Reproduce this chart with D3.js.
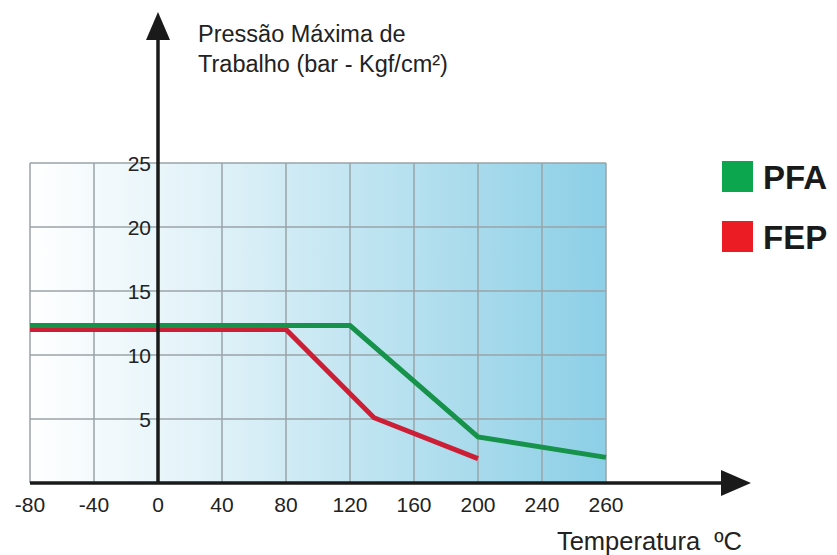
<!DOCTYPE html>
<html>
<head>
<meta charset="utf-8">
<script src="https://cdn.jsdelivr.net/npm/d3@7"></script>
<style>
  html, body { margin: 0; padding: 0; background: #fff; }
  svg { display: block; }
</style>
</head>
<body>
<svg id="chart" width="837" height="555"></svg>
<script>
// ---- data ----
const xTicks = [-80, -40, 0, 40, 80, 120, 160, 200, 240, 260];
const yTicks = [5, 10, 15, 20, 25];
const pfaTemp = [-80, 120, 200, 260];
const pfaPress = [12.3, 12.3, 3.6, 2.0];
const fepTemp = [-80, 80, 135, 200];
const fepPress = [12.0, 12.0, 5.1, 1.9];
const seriesNames = ["PFA", "FEP"];
const yTitle = ["Pressão Máxima de", "Trabalho (bar - Kgf/cm²)"];
const xTitle = "Temperatura  ºC";

// ---- layout ----
const svg = d3.select("#chart");
// last column (240->260) is drawn with the same width as the others
const x = d3.scaleLinear().domain([-80, 240, 260]).range([30, 542, 606]);
const y = d3.scaleLinear().domain([0, 25]).range([483, 163]);

const defs = svg.append("defs");
const grad = defs.append("linearGradient").attr("id", "bg")
  .attr("x1", "0%").attr("x2", "100%").attr("y1", "0%").attr("y2", "0%");
grad.append("stop").attr("offset", "0%").attr("stop-color", "#ffffff");
grad.append("stop").attr("offset", "35%").attr("stop-color", "#dcf0f7");
grad.append("stop").attr("offset", "100%").attr("stop-color", "#8ccfe6");

svg.append("rect")
  .attr("x", x(-80)).attr("y", y(25))
  .attr("width", x(260) - x(-80)).attr("height", y(0) - y(25))
  .attr("fill", "url(#bg)");

// grid
const grid = svg.append("g").attr("stroke", "#9aa3a8").attr("stroke-width", 1.5);
grid.selectAll("line.v").data(xTicks).join("line")
  .attr("x1", d => x(d)).attr("x2", d => x(d))
  .attr("y1", y(25)).attr("y2", y(0));
grid.selectAll("line.h").data(yTicks).join("line")
  .attr("x1", x(-80)).attr("x2", x(260))
  .attr("y1", d => y(d)).attr("y2", d => y(d));

// series lines
const line = d3.line().x(d => x(d[0])).y(d => y(d[1]));
svg.append("path")
  .datum(fepTemp.map((t, i) => [t, fepPress[i]]))
  .attr("d", line).attr("fill", "none")
  .attr("stroke", "#cc1f36").attr("stroke-width", 5);
svg.append("path")
  .datum(pfaTemp.map((t, i) => [t, pfaPress[i]]))
  .attr("d", line).attr("fill", "none")
  .attr("stroke", "#16924a").attr("stroke-width", 5);

// axes (with arrows)
const ax = svg.append("g").attr("fill", "#1a1a1a").attr("stroke", "#1a1a1a");
ax.append("line").attr("x1", x(0)).attr("x2", x(0))
  .attr("y1", y(0)).attr("y2", 38).attr("stroke-width", 3.5);
ax.append("path").attr("stroke", "none")
  .attr("d", `M${x(0)},12 L${x(0) - 12},40 L${x(0) + 12},40 Z`);
ax.append("line").attr("x1", x(-80)).attr("x2", 725)
  .attr("y1", y(0)).attr("y2", y(0)).attr("stroke-width", 3.5);
ax.append("path").attr("stroke", "none")
  .attr("d", `M751,${y(0)} L721,${y(0) - 13} L721,${y(0) + 13} Z`);

// tick labels
svg.append("g").selectAll("text").data(xTicks).join("text")
  .attr("x", d => x(d)).attr("y", 512)
  .attr("text-anchor", "middle")
  .attr("font-family", "'Liberation Sans', Arial, sans-serif")
  .attr("font-size", 21).attr("fill", "#222")
  .text(d => d);
svg.append("g").selectAll("text").data(yTicks).join("text")
  .attr("x", 151).attr("y", d => y(d) + 8)
  .attr("text-anchor", "end")
  .attr("font-family", "'Liberation Sans', Arial, sans-serif")
  .attr("font-size", 21).attr("fill", "#222")
  .text(d => d);

// titles
svg.append("g").selectAll("text").data(yTitle).join("text")
  .attr("x", 198).attr("y", (d, i) => 42 + i * 30)
  .attr("font-family", "'Liberation Sans', Arial, sans-serif")
  .attr("font-size", 23.5).attr("fill", "#222")
  .text(d => d);
svg.append("text")
  .attr("x", 742).attr("y", 550).attr("text-anchor", "end")
  .style("white-space", "pre")
  .attr("font-family", "'Liberation Sans', Arial, sans-serif")
  .attr("font-size", 25.5).attr("fill", "#222")
  .text(xTitle);

// legend
const legColors = ["#0ba64e", "#ec1c24"];
const leg = svg.append("g").selectAll("g").data(seriesNames).join("g")
  .attr("transform", (d, i) => `translate(722, ${161 + i * 60})`);
leg.append("rect").attr("width", 31).attr("height", 31)
  .attr("fill", (d, i) => legColors[i]);
leg.append("text").attr("x", 41).attr("y", 28)
  .attr("font-family", "'Liberation Sans', Arial, sans-serif")
  .attr("font-weight", "bold").attr("font-size", 33).attr("fill", "#1a1a1a")
  .text(d => d);
</script>
</body>
</html>
